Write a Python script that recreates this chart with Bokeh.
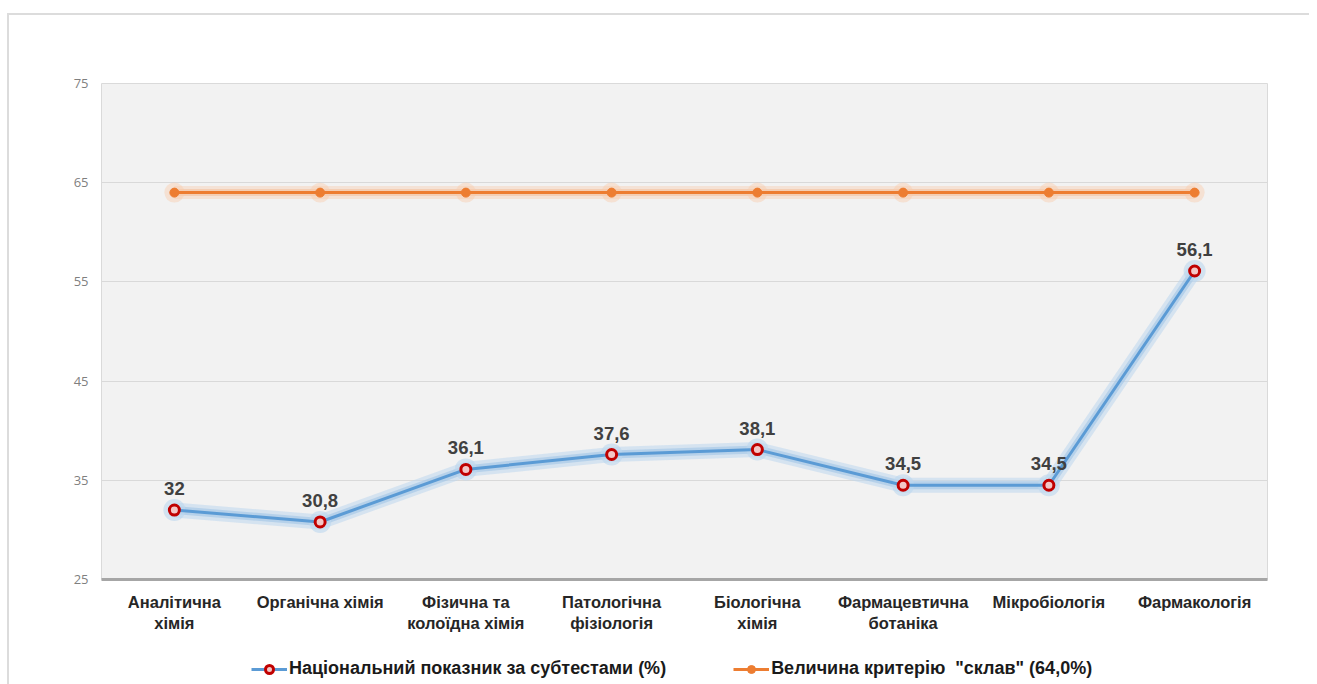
from bokeh.plotting import figure
from bokeh.layouts import column
from bokeh.models import ColumnDataSource, Legend, LegendItem, FixedTicker, Range1d
from bokeh.core.properties import value
from bokeh.embed import file_html
from bokeh.resources import INLINE

categories = ["Аналітична\nхімія", "Органічна хімія", "Фізична та\nколоїдна хімія",
              "Патологічна\nфізіологія", "Біологічна\nхімія", "Фармацевтична\nботаніка",
              "Мікробіологія", "Фармакологія"]
national = [32, 30.8, 36.1, 37.6, 38.1, 34.5, 34.5, 56.1]
national_labels = ["32", "30,8", "36,1", "37,6", "38,1", "34,5", "34,5", "56,1"]
criterion = [64, 64, 64, 64, 64, 64, 64, 64]
y_ticks = [25, 35, 45, 55, 65, 75]
series_names = ["Національний показник за субтестами (%)", 'Величина критерію  "склав" (64,0%)']

src = ColumnDataSource(dict(x=categories, nat=national, lab=national_labels, crit=criterion))

p = figure(x_range=categories, y_range=Range1d(25, 75), width=1300, height=620,
           output_backend="svg", toolbar_location=None,
           min_border_left=92, min_border_right=42, min_border_top=68, min_border_bottom=55)
p.background_fill_color = "#f2f2f2"
p.border_fill_color = "white"
p.outline_line_color = "#dadada"

p.xgrid.grid_line_color = None
p.ygrid.grid_line_color = "#d9d9d9"
p.ygrid.grid_line_width = 1

p.yaxis.ticker = FixedTicker(ticks=y_ticks)
p.yaxis.axis_line_color = None
p.yaxis.major_tick_line_color = None
p.yaxis.minor_tick_line_color = None
p.yaxis.major_label_text_color = "#7f7f7f"
p.yaxis.major_label_text_font = "Open Sans"
p.yaxis.major_label_text_font_size = "13px"
p.yaxis.major_label_standoff = 7

p.xaxis.axis_line_color = "#a6a6a6"
p.xaxis.axis_line_width = 3
p.xaxis.major_tick_line_color = None
p.xaxis.minor_tick_line_color = None
p.xaxis.major_label_text_font = "Liberation Sans"
p.xaxis.major_label_text_font_style = "bold"
p.xaxis.major_label_text_font_size = "16.5px"
p.xaxis.major_label_text_color = "#262626"
p.xaxis.major_label_standoff = 7

# orange criterion line with glow
p.line("x", "crit", source=src, line_color="#f8cbad", line_width=13, line_alpha=0.4)
p.line("x", "crit", source=src, line_color="#f4b183", line_width=7, line_alpha=0.4)
p.scatter("x", "crit", source=src, size=20, fill_color="#f8cbad", fill_alpha=0.45, line_color=None)
p.line("x", "crit", source=src, line_color="#ed7d31", line_width=3)
p.scatter("x", "crit", source=src, size=9, fill_color="#ed7d31", line_color="#ed7d31")

# blue national line with glow
p.line("x", "nat", source=src, line_color="#bdd7ee", line_width=15, line_alpha=0.55)
p.line("x", "nat", source=src, line_color="#9dc3e6", line_width=8, line_alpha=0.55)
p.scatter("x", "nat", source=src, size=22, fill_color="#bdd7ee", fill_alpha=0.6, line_color=None)
p.line("x", "nat", source=src, line_color="#5b9bd5", line_width=3)
p.scatter("x", "nat", source=src, size=10, fill_color="#f3c6c6",
          line_color="#c00000", line_width=3)

p.text("x", "nat", text="lab", source=src, y_offset=-15, text_align="center",
       text_baseline="bottom", text_font=value("Liberation Sans"), text_font_style="bold",
       text_font_size="18.5px", text_color="#404040")

# legend strip below the chart
lg = figure(width=1300, height=49, output_backend="svg", toolbar_location=None,
            min_border=0, x_range=(0, 1), y_range=(0, 1))
lg.axis.visible = False
lg.grid.visible = False
lg.outline_line_color = None
lg.background_fill_color = "white"
offscreen = ColumnDataSource(dict(x=[-10, -9], y=[-10, -10]))
l1 = lg.line("x", "y", source=offscreen, line_color="#5b9bd5", line_width=3)
m1 = lg.scatter("x", "y", source=offscreen, size=10, fill_color="#f3c6c6", line_color="#c00000", line_width=3)
l2 = lg.line("x", "y", source=offscreen, line_color="#ed7d31", line_width=3)
m2 = lg.scatter("x", "y", source=offscreen, size=9, fill_color="#ed7d31", line_color="#ed7d31")

legend = Legend(items=[LegendItem(label=series_names[0], renderers=[l1, m1]),
                       LegendItem(label=series_names[1], renderers=[l2, m2])],
                orientation="horizontal", location=(150, 5))
legend.label_text_font = "Liberation Sans"
legend.label_text_font_style = "bold"
legend.label_text_font_size = "18px"
legend.label_text_color = "#1a1a1a"
legend.glyph_width = 36
legend.label_standoff = 2
legend.spacing = 67
legend.border_line_color = None
legend.background_fill_alpha = 0
legend.margin = 0
legend.padding = 4
lg.add_layout(legend, "center")

layout = column(p, lg, spacing=0)
layout.styles = {"margin-left": "7px", "margin-top": "13px",
                 "border-top": "2px solid #dcdcdc", "border-left": "2px solid #dcdcdc"}

open("out.html", "w").write(file_html(layout, INLINE))
